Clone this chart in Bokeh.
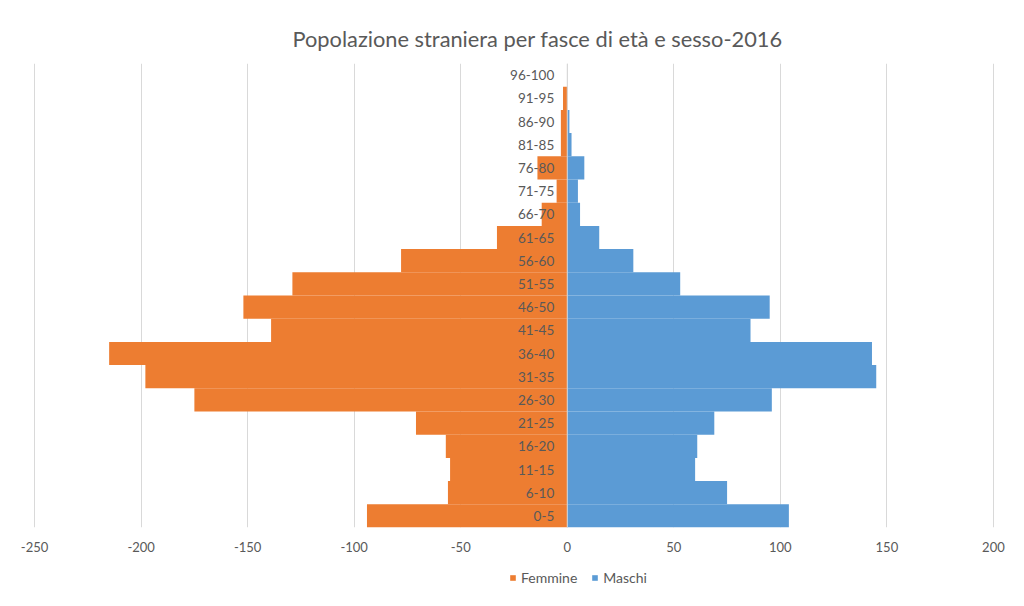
from bokeh.plotting import figure
from bokeh.layouts import column
from bokeh.models import ColumnDataSource, FactorRange, FixedTicker, Legend, LegendItem, Span, Range1d
from bokeh.core.properties import value
from bokeh.embed import file_html
from bokeh.resources import INLINE

# --- data ---
age_groups = ["0-5", "6-10", "11-15", "16-20", "21-25", "26-30", "31-35", "36-40",
              "41-45", "46-50", "51-55", "56-60", "61-65", "66-70", "71-75", "76-80",
              "81-85", "86-90", "91-95", "96-100"]
femmine = [-94, -56, -55, -57, -71, -175, -198, -215, -139, -152, -129, -78, -33,
           -12, -5, -14, -3, -3, -2, 0]
maschi = [104, 75, 60, 61, 69, 96, 145, 143, 86, 95, 53, 31, 15,
          6, 5, 8, 2, 1, 0, 0]
x_ticks = [-250, -200, -150, -100, -50, 0, 50, 100, 150, 200]
title_text = "Popolazione straniera per fasce di età e sesso-2016"
series_names = ["Femmine", "Maschi"]

ORANGE = "#ED7D31"
BLUE = "#5B9BD5"
TXT = "#595959"
GRID = "#D9D9D9"
FONT = "Lato"

src = ColumnDataSource(dict(age=age_groups, f=femmine, m=maschi, zero=[0] * len(age_groups)))

p = figure(width=1008, height=560, output_backend="svg", toolbar_location=None,
           y_range=FactorRange(*age_groups, range_padding=0),
           x_range=Range1d(-250.5, 200.5),
           min_border_left=33, min_border_right=14, min_border_top=63, min_border_bottom=33)

p.title.text = title_text
p.title.align = "left"
p.title.text_font = FONT
p.title.text_font_size = "21.8px"
p.title.text_font_style = "normal"
p.title.text_color = TXT
p.title.offset = 259
p.title.standoff = 24

rf = p.hbar(y="age", left="zero", right="f", height=1.0, source=src, color=ORANGE, line_color=None)
rm = p.hbar(y="age", left="zero", right="m", height=1.0, source=src, color=BLUE, line_color=None)

p.add_layout(Span(location=0, dimension="height", line_color=GRID, line_width=1))

p.text(x="zero", y="age", text="age", source=src, text_align="right", text_baseline="middle",
       x_offset=-13, text_font=value(FONT), text_font_size="13.5px", text_color=TXT)

p.yaxis.visible = False
p.ygrid.visible = False
p.xgrid.grid_line_color = GRID
p.xgrid.ticker = FixedTicker(ticks=x_ticks)
p.xaxis.ticker = FixedTicker(ticks=x_ticks)
p.xaxis.major_label_overrides = {t: str(t) for t in x_ticks}
p.xaxis.axis_line_color = None
p.xaxis.major_tick_line_color = None
p.xaxis.minor_tick_line_color = None
p.xaxis.major_tick_out = 0
p.xaxis.major_tick_in = 0
p.xaxis.minor_tick_out = 0
p.xaxis.minor_tick_in = 0
p.xaxis.major_label_text_font = FONT
p.xaxis.major_label_text_font_size = "13px"
p.xaxis.major_label_text_color = TXT
p.xaxis.major_label_standoff = 14
p.outline_line_color = None

# legend strip below the chart (proxy glyphs lie outside the strip's visible range)
lg = figure(width=1008, height=30, output_backend="svg", toolbar_location=None,
            x_range=Range1d(0, 1), y_range=Range1d(0, 1),
            min_border_left=0, min_border_right=0, min_border_top=0, min_border_bottom=0)
lg.axis.visible = False
lg.grid.visible = False
lg.outline_line_color = None
proxy = ColumnDataSource(dict(l=[5], r=[6], b=[5], t=[6]))
lf = lg.quad(left="l", right="r", bottom="b", top="t", source=proxy, color=ORANGE, line_color=None)
lm = lg.quad(left="l", right="r", bottom="b", top="t", source=proxy, color=BLUE, line_color=None)
legend = Legend(items=[LegendItem(label=series_names[0], renderers=[lf]),
                       LegendItem(label=series_names[1], renderers=[lm])],
                orientation="horizontal", location=(476, 4),
                label_text_font=FONT, label_text_font_size="14px", label_text_color=TXT,
                glyph_width=7, glyph_height=7, spacing=14, label_standoff=5, label_height=16,
                border_line_color=None, background_fill_alpha=0, padding=0, margin=0)
lg.add_layout(legend, "center")

layout = column(p, lg, spacing=0)
open("out.html", "w").write(file_html(layout, INLINE))
